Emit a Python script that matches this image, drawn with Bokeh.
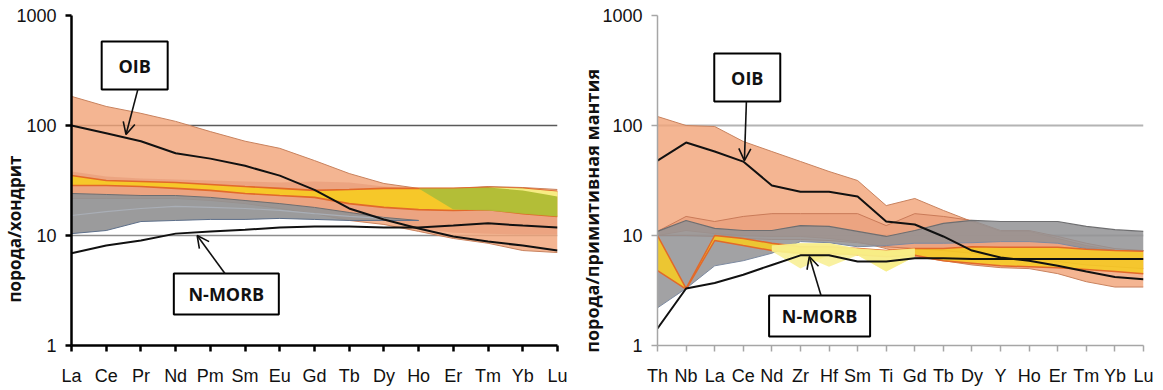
import math
from bokeh.plotting import figure
from bokeh.layouts import row
from bokeh.models import (Range1d, FixedTicker, CustomJSTickFormatter, Span,
                          Arrow, OpenHead)
from bokeh.embed import file_html
from bokeh.resources import INLINE
from bokeh.core.properties import value

# ---------------- data: left panel (chondrite-normalised REE) ----------------
REE = ["La", "Ce", "Pr", "Nd", "Pm", "Sm", "Eu", "Gd", "Tb", "Dy", "Ho", "Er", "Tm", "Yb", "Lu"]
OIB_CH = [100, 85, 72, 56, 50, 43, 35, 26, 17.6, 14.0, 11.6, 9.8, 8.8, 8.1, 7.3]
NMORB_CH = [6.9, 8.1, 9.0, 10.4, 10.9, 11.3, 11.8, 12.1, 12.1, 11.8, 11.8, 12.3, 12.9, 12.3, 11.8]
SALMON_TOP_CH = [184, 149, 129, 109, 88, 72, 62, 48, 36.6, 29.7, 26.8, 26.8, 27.9, 27.3, 26.2]
SALMON_BOT_CH = [21.7, 21.7, 21.7, 21.7, 20.8, 19.5, 17.6, 15.8, 13.7, 12.6, 10.9, 9.4, 8.5, 7.3, 7.0]
INNER_TOP_CH = [38.2, 34.4, 33.0, 32.3, 31.6, 31.0, 30.3, 31.0, 30.3, 27.9, 26.8, 26.8, 27.3, 26.8, 25.7]
INNER_BOT_CH = [23.1, 23.1, 22.6, 22.6, 21.7, 20.8, 19.5, 17.6, 15.8, 13.7, 11.6, 10.6, 10.4, 10.2, 10.2]
GRAY_ELEM_CH = ["La", "Ce", "Pr", "Nd", "Pm", "Sm", "Eu", "Gd", "Tb", "Dy", "Ho"]
GRAY_TOP_CH = [24.1, 23.6, 23.1, 23.1, 22.2, 20.8, 19.5, 18.0, 16.2, 14.6, 13.7]
GRAY_BOT_CH = [10.4, 11.1, 13.4, 13.7, 14.0, 14.0, 14.3, 14.0, 13.7, 13.7, 13.7]
GRAYMID_ELEM_CH = ["La", "Ce", "Pr", "Nd", "Pm", "Sm", "Eu", "Gd", "Tb", "Dy"]
GRAYMID_CH = [15.2, 16.5, 17.6, 18.4, 18.0, 17.6, 16.9, 15.8, 14.9, 14.3]
YELLOW_TOP_CH = [35.1, 31.6, 31.0, 30.3, 29.1, 27.9, 26.8, 25.7, 26.2, 26.8, 26.8, 26.8, 27.3, 26.8, 25.1]
YELLOW_BOT_CH = [28.5, 28.5, 27.9, 26.8, 25.7, 24.1, 23.1, 22.2, 19.5, 18.0, 17.2, 16.9, 17.2, 15.8, 14.9]
GREEN_ELEM_CH = ["Ho", "Er", "Tm", "Yb", "Lu"]
GREEN_TOP_CH = [26.8, 26.8, 27.3, 26.8, 22.6]
GREEN_BOT_CH = [26.8, 17.2, 16.9, 15.8, 14.9]
PALE_ELEM_CH = ["Tm", "Yb", "Lu"]
PALE_TOP_CH = [27.3, 26.8, 25.1]
PALE_BOT_CH = [27.3, 25.7, 22.6]

# ---------------- data: right panel (primitive-mantle spider) ----------------
SPD = ["Th", "Nb", "La", "Ce", "Nd", "Zr", "Hf", "Sm", "Ti", "Gd", "Tb", "Dy", "Y", "Ho", "Er", "Tm", "Yb", "Lu"]
OIB_PM = [48, 70, 58, 47, 28.5, 25, 25, 22.6, 13.4, 12.6, 9.8, 7.3, 6.3, 5.9, 5.3, 4.7, 4.2, 4.0]
NMORB_PM = [1.43, 3.3, 3.7, 4.4, 5.4, 6.6, 6.6, 5.8, 5.8, 6.2, 6.2, 6.1, 6.1, 6.1, 6.1, 6.1, 6.1, 6.1]
SALMON_TOP_PM = [120.7, 100, 97.9, 71.6, 58.0, 47.1, 38.2, 31.6, 18.7, 21.7, 16.9, 13.4, 10.9, 10.9, 9.4, 8.1, 7.3, 7.3]
SALMON_BOT_PM = [10, 11.1, 10.4, 10, 9.8, 9.8, 9.4, 8.8, 7.6, 6.4, 5.9, 5.4, 5.1, 5.0, 4.5, 3.8, 3.4, 3.4]
INNER_TOP_PM = [10.9, 14.9, 13.4, 14.9, 15.8, 15.8, 15.8, 15.8, 12.3, 15.8, 14.9, 13.7, 11.1, 11.1, 9.8, 8.5, 7.6, 7.3]
INNER_BOT_PM = [10, 10, 9.8, 9.4, 9.2, 9.2, 9.0, 8.6, 7.9, 7.6, 7.3, 6.9, 6.4, 6.2, 5.8, 5.4, 5.2, 5.0]
GRAY_TOP_PM = [10.9, 13.7, 11.6, 11.1, 11.1, 12.3, 12.1, 10.9, 9.8, 11.1, 12.9, 13.7, 13.4, 13.4, 13.4, 12.1, 11.3, 10.9]
GRAY_BOT_PM = [2.2, 3.3, 5.3, 5.9, 6.9, 8.8, 8.6, 7.9, 8.1, 8.5, 8.5, 8.6, 8.8, 8.8, 8.5, 7.6, 7.3, 7.3]
YELLOW_TOP_PM = [10, 3.3, 10, 9.4, 8.5, 7.9, 7.9, 7.6, 7.3, 7.6, 7.6, 7.9, 7.8, 7.8, 7.8, 7.5, 7.3, 7.2]
YELLOW_BOT_PM = [4.8, 3.25, 9.0, 8.1, 7.3, 6.9, 6.9, 6.7, 6.4, 6.6, 5.9, 5.6, 5.3, 5.2, 5.1, 4.9, 4.7, 4.5]
PALE_ELEM_PM = ["Nd", "Zr", "Hf", "Sm", "Ti", "Gd"]
PALE_TOP_PM = [8.1, 8.5, 8.5, 7.6, 7.3, 7.6]
PALE_BOT_A_PM = [7.2, 5.0, 6.7, 6.6, 4.7, 6.4]
PALE_BOT_B_PM = [7.2, 6.7, 5.2, 6.6, 4.7, 6.4]

Y_TICKS = [1, 10, 100, 1000]
LEFT_TITLE = "порода/хондрит"
RIGHT_TITLE = "порода/примитивная мантия"

TICK_FONT = "Liberation Sans"
BOLD_FONT = "Open Sans"

SALMON = "#F2A57A"
SALMON_LINE = "#C8825E"
INNER = "#E2916C"
GRAY = "#929294"
GRAY_LINE = "#6E6E70"
LIGHTGRAY = "#A9AEB6"
GOLD = "#F6CB22"
ORANGE = "#E2692A"
GREEN = "#AFBE38"
PALE = "#F8EE88"
NBSP = "\u00a0"


def idx(cats, subset):
    return [cats.index(c) for c in subset]


def band(p, x, top, bot, fill, alpha, line=None, lw=1.0):
    p.varea(x=x, y1=bot, y2=top, fill_color=fill, fill_alpha=alpha)
    if line:
        p.line(x, top, line_color=line, line_width=lw)
        p.line(x, bot, line_color=line, line_width=lw)


def base_fig(cats, width, border_left, border_right, axis_color, axis_w):
    p = figure(width=width, height=388, x_range=Range1d(0, len(cats) - 1),
               y_range=Range1d(1, 1000), y_axis_type="log",
               output_backend="svg", toolbar_location=None,
               min_border_left=border_left, min_border_right=border_right,
               min_border_top=15, min_border_bottom=43)
    p.outline_line_color = None
    p.grid.visible = False
    p.yaxis.ticker = FixedTicker(ticks=Y_TICKS, minor_ticks=[])
    p.yaxis.formatter = CustomJSTickFormatter(code="return String(Math.round(tick));")
    p.xaxis.ticker = FixedTicker(ticks=list(range(len(cats))), minor_ticks=[])
    p.xaxis.formatter = CustomJSTickFormatter(
        args=dict(names=cats),
        code="const i = Math.round(tick); return (i >= 0 && i < names.length) ? names[i] : '';")
    for ax in (p.xaxis[0], p.yaxis[0]):
        ax.axis_line_color = axis_color
        ax.axis_line_width = axis_w
        ax.major_tick_line_color = axis_color
        ax.major_tick_line_width = axis_w
        ax.major_tick_out = 6
        ax.major_tick_in = 0
        ax.minor_tick_line_color = None
        ax.major_label_text_font = TICK_FONT
        ax.major_label_text_font_size = "18px"
        ax.major_label_text_color = "#111111"
    p.xaxis.major_label_standoff = 14
    p.yaxis.major_label_standoff = 9
    p.yaxis.axis_label_text_font = BOLD_FONT
    p.yaxis.axis_label_text_font_style = "bold"
    p.yaxis.axis_label_text_font_size = "18px"
    p.yaxis.axis_label_text_color = "#111111"
    return p


def box(p, x, y, w, h, text):
    p.rect(x=[x], y=[y], width=w, height=h, width_units="screen", height_units="screen",
           fill_color="white", line_color="black", line_width=2)
    p.text(x=[x], y=[y], text=[text], text_align="center", text_baseline="middle",
           text_font=value(BOLD_FONT), text_font_style="bold", text_font_size="18px",
           text_color="#111111")


def arrow(p, xs, ys, xe, ye):
    p.add_layout(Arrow(end=OpenHead(size=12, line_width=1.6, line_color="#111111"),
                       x_start=xs, y_start=ys, x_end=xe, y_end=ye,
                       line_width=1.6, line_color="#111111"))


# ---------------- left panel ----------------
pl = base_fig(REE, 577, 66, 20, "#000000", 2.5)
xl = list(range(len(REE)))
pl.add_layout(Span(location=100, dimension="width", line_color="#5a5a5a", line_width=1.3, level="underlay"))
pl.add_layout(Span(location=10, dimension="width", line_color="#8c8c8c", line_width=1.3, level="underlay"))

band(pl, xl, SALMON_TOP_CH, SALMON_BOT_CH, SALMON, 0.82, SALMON_LINE, 1.0)
band(pl, xl, INNER_TOP_CH, INNER_BOT_CH, INNER, 0.45)
xg = idx(REE, GRAY_ELEM_CH)
band(pl, xg, GRAY_TOP_CH, GRAY_BOT_CH, GRAY, 0.92)
pl.line(xg, GRAY_TOP_CH, line_color=GRAY_LINE, line_width=1)
pl.line(xg, GRAY_BOT_CH, line_color="#5d6f8a", line_width=1)
xgm = idx(REE, GRAYMID_ELEM_CH)
pl.line(xgm, GRAYMID_CH, line_color=LIGHTGRAY, line_width=1.2)
band(pl, xl, YELLOW_TOP_CH, YELLOW_BOT_CH, GOLD, 0.92, ORANGE, 1.6)
xgr = idx(REE, GREEN_ELEM_CH)
band(pl, xgr, GREEN_TOP_CH, GREEN_BOT_CH, GREEN, 0.95)
xpa = idx(REE, PALE_ELEM_CH)
band(pl, xpa, PALE_TOP_CH, PALE_BOT_CH, PALE, 0.95)
pl.line(xl, OIB_CH, line_color="#111111", line_width=2)
pl.line(xl, NMORB_CH, line_color="#111111", line_width=2)

box(pl, 1.82, 351, 66, 48, "OIB")
arrow(pl, 1.91, 212, 1.57, 82.8)
box(pl, 4.46, 2.94, 105, 41, "N-MORB")
arrow(pl, 4.42, 4.51, 3.62, 10.0)

# axis title shifted towards the bottom of the axis, as in the original
pl.yaxis.axis_label = LEFT_TITLE + NBSP * 22
pl.yaxis.axis_label_text_font_size = "17px"
pl.yaxis.axis_label_standoff = -13

# ---------------- right panel ----------------
pr = base_fig(SPD, 576, 79, 10, "#a6a6a6", 1.5)
xr = list(range(len(SPD)))
pr.add_layout(Span(location=100, dimension="width", line_color="#b4b4b4", line_width=2, level="underlay"))
pr.add_layout(Span(location=10, dimension="width", line_color="#b4b4b4", line_width=2, level="underlay"))

band(pr, xr, SALMON_TOP_PM, SALMON_BOT_PM, SALMON, 0.82, SALMON_LINE, 1.0)
band(pr, xr, INNER_TOP_PM, INNER_BOT_PM, INNER, 0.45, "#c97a58", 1.0)
band(pr, xr, GRAY_TOP_PM, GRAY_BOT_PM, GRAY, 0.85)
pr.line(xr, GRAY_TOP_PM, line_color=GRAY_LINE, line_width=1.2)
pr.line(xr, GRAY_BOT_PM, line_color="#7d8aa0", line_width=1)
band(pr, xr, YELLOW_TOP_PM, YELLOW_BOT_PM, GOLD, 0.88, ORANGE, 1.5)
xpp = idx(SPD, PALE_ELEM_PM)
band(pr, xpp, PALE_TOP_PM, PALE_BOT_A_PM, PALE, 0.8)
band(pr, xpp, PALE_TOP_PM, PALE_BOT_B_PM, PALE, 0.8)
pr.line(xr, OIB_PM, line_color="#111111", line_width=2)
pr.line(xr, NMORB_PM, line_color="#111111", line_width=2)

box(pr, 3.14, 273, 66, 48, "OIB")
arrow(pr, 3.11, 165, 3.04, 48)
box(pr, 5.67, 1.855, 101, 41, "N-MORB")
arrow(pr, 5.72, 2.85, 5.31, 6.44)

pr.yaxis.axis_label = RIGHT_TITLE + NBSP * 13
pr.yaxis.axis_label_standoff = -5

layout = row(pl, pr)
open("out.html", "w").write(file_html(layout, INLINE))
